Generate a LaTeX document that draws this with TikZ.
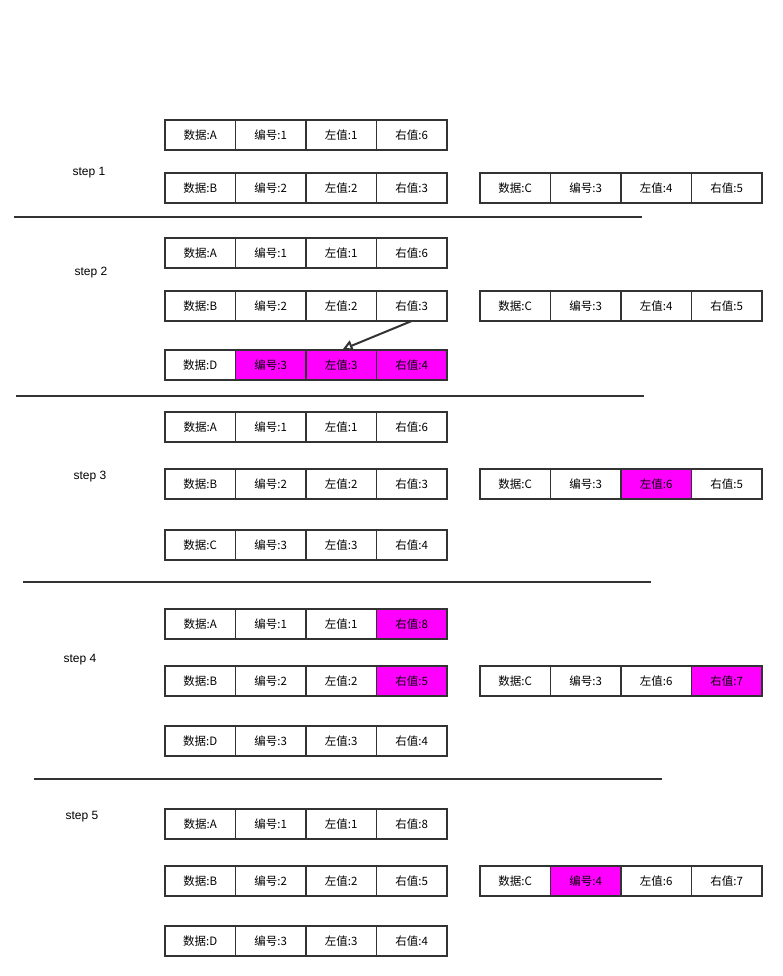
\documentclass[tikz,border=0pt]{standalone}
\usepackage{fontspec}
\setmainfont{Liberation Sans}
\newfontfamily\cjk{Noto Sans CJK SC}
\usepackage{tikz}
\usetikzlibrary{arrows.meta}

\definecolor{linegray}{HTML}{333333}
\definecolor{hotpink}{HTML}{FF00FF}

\tikzset{
	cell/.style={draw=linegray, line width=1.8pt, outer sep=0pt, inner sep=0pt,
		minimum width=70.5pt, minimum height=30pt, font=\cjk\fontsize{11.5}{13}\selectfont},
	hot/.style={cell, fill=hotpink},
	steplabel/.style={font=\fontsize{12}{14}\selectfont},
	sepline/.style={draw=linegray, line width=2pt}
}

% one row of four cells: name, left x, centre y, {text/style,...}
\newcommand{\datarow}[4]{%
	\foreach \t/\s [count=\i] in {#4}
		\node[\s] (#1\i) at ({#2+(\i-1)*70.5+35.25},#3) {\t};
}

\begin{document}
\begin{tikzpicture}[x=1pt,y=-1pt]
\useasboundingbox (0,0) rectangle (782,976);

% step 1
\node[steplabel] (lab1) at (89,173) {step 1};
\datarow{sa}{165}{135}{数据:A/cell,编号:1/cell,左值:1/cell,右值:6/cell}
\datarow{sb}{165}{188}{数据:B/cell,编号:2/cell,左值:2/cell,右值:3/cell}
\datarow{sc}{480}{188}{数据:C/cell,编号:3/cell,左值:4/cell,右值:5/cell}
\draw[sepline] (14,217) -- (642,217);

% step 2
\node[steplabel] (lab2) at (91,273) {step 2};
\datarow{ta}{165}{253}{数据:A/cell,编号:1/cell,左值:1/cell,右值:6/cell}
\datarow{tb}{165}{306}{数据:B/cell,编号:2/cell,左值:2/cell,右值:3/cell}
\datarow{tc}{480}{306}{数据:C/cell,编号:3/cell,左值:4/cell,右值:5/cell}
\datarow{td}{165}{365}{数据:D/cell,编号:3/hot,左值:3/hot,右值:4/hot}
\draw[draw=linegray, line width=2pt, shorten >=1.5pt, -{Triangle[open,length=10pt,width=11pt]}]
	(tb4.south) -- (td3.north);
\draw[sepline] (16,396) -- (644,396);

% step 3
\node[steplabel] (lab3) at (90,477) {step 3};
\datarow{ua}{165}{427}{数据:A/cell,编号:1/cell,左值:1/cell,右值:6/cell}
\datarow{ub}{165}{484}{数据:B/cell,编号:2/cell,左值:2/cell,右值:3/cell}
\datarow{uc}{480}{484}{数据:C/cell,编号:3/cell,左值:6/hot,右值:5/cell}
\datarow{ud}{165}{545}{数据:C/cell,编号:3/cell,左值:3/cell,右值:4/cell}
\draw[sepline] (23,582) -- (651,582);

% step 4
\node[steplabel] (lab4) at (80,660) {step 4};
\datarow{va}{165}{624}{数据:A/cell,编号:1/cell,左值:1/cell,右值:8/hot}
\datarow{vb}{165}{681}{数据:B/cell,编号:2/cell,左值:2/cell,右值:5/hot}
\datarow{vc}{480}{681}{数据:C/cell,编号:3/cell,左值:6/cell,右值:7/hot}
\datarow{vd}{165}{741}{数据:D/cell,编号:3/cell,左值:3/cell,右值:4/cell}
\draw[sepline] (34,779) -- (662,779);

% step 5
\node[steplabel] (lab5) at (82,817) {step 5};
\datarow{wa}{165}{824}{数据:A/cell,编号:1/cell,左值:1/cell,右值:8/cell}
\datarow{wb}{165}{881}{数据:B/cell,编号:2/cell,左值:2/cell,右值:5/cell}
\datarow{wc}{480}{881}{数据:C/cell,编号:4/hot,左值:6/cell,右值:7/cell}
\datarow{wd}{165}{941}{数据:D/cell,编号:3/cell,左值:3/cell,右值:4/cell}

\end{tikzpicture}
\end{document}
